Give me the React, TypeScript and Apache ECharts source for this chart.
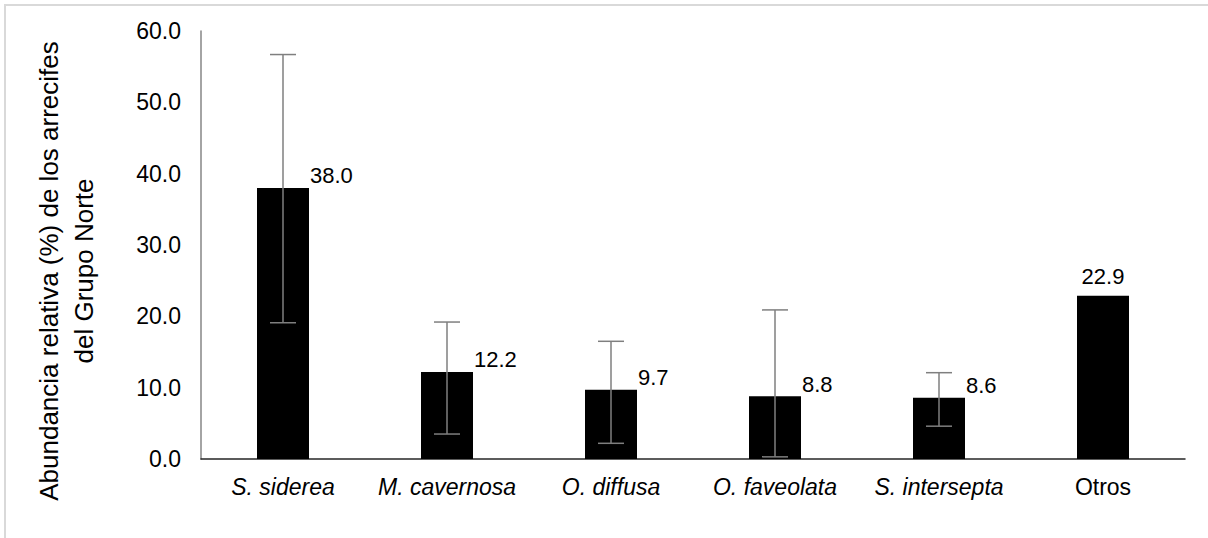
import React, { useEffect, useRef } from "react";
import * as echarts from "echarts";

const categories = ["S. siderea", "M. cavernosa", "O. diffusa", "O. faveolata", "S. intersepta", "Otros"];
const values = [38.0, 12.2, 9.7, 8.8, 8.6, 22.9];
const errLow: (number | null)[] = [19.1, 3.5, 2.2, 0.3, 4.6, null];
const errHigh: (number | null)[] = [56.7, 19.2, 16.5, 20.9, 12.1, null];
const yTicks = [0, 10, 20, 30, 40, 50, 60];
const yTitle = "Abundancia relativa (%) de los arrecifes\ndel Grupo Norte";

const FONT = "Liberation Sans, Arial, sans-serif";

export default function App() {
  const ref = useRef<HTMLDivElement>(null);
  useEffect(() => {
    document.body.style.margin = "0";
    const chart = echarts.init(ref.current!, undefined, { renderer: "svg" });
    const errData = categories
      .map((_, i) => (errLow[i] == null ? null : [i, errLow[i], errHigh[i]]))
      .filter((d) => d != null);
    chart.setOption({
      animation: false,
      backgroundColor: "#ffffff",
      grid: { left: 201, right: 23, top: 31, bottom: 79, containLabel: false },
      xAxis: {
        type: "category",
        data: categories,
        axisTick: { show: false },
        axisLine: { lineStyle: { color: "#262626", width: 1.5 } },
        axisLabel: {
          interval: 0,
          margin: 16,
          fontFamily: FONT,
          fontSize: 23,
          color: "#000",
          formatter: (v: string) => (v === "Otros" ? v : "{i|" + v + "}"),
          rich: { i: { fontStyle: "italic", fontFamily: FONT, fontSize: 23, color: "#000" } },
        },
      },
      yAxis: {
        type: "value",
        min: yTicks[0],
        max: yTicks[yTicks.length - 1],
        interval: 10,
        splitLine: { show: false },
        axisTick: { show: false },
        axisLine: { show: true, lineStyle: { color: "#868686", width: 1.5 } },
        axisLabel: {
          margin: 20,
          fontFamily: FONT,
          fontSize: 23,
          color: "#000",
          formatter: (v: number) => v.toFixed(1),
        },
      },
      graphic: [
        {
          type: "rect",
          shape: { x: 5, y: 5, width: 1400, height: 800 },
          style: { fill: "none", stroke: "#d9d9d9", lineWidth: 2 },
          silent: true,
        },
        {
          type: "text",
          x: 66,
          y: 271,
          rotation: Math.PI / 2,
          style: {
            text: yTitle,
            font: "26px " + FONT,
            fill: "#000",
            align: "center",
            verticalAlign: "middle",
            lineHeight: 35,
          },
        },
      ],
      series: [
        {
          type: "bar",
          barWidth: 52,
          itemStyle: { color: "#000" },
          data: values.map((v, i) => ({
            value: v,
            label:
              errLow[i] == null
                ? {
                    show: true,
                    position: "top",
                    distance: 8,
                    fontFamily: FONT,
                    fontSize: 22,
                    color: "#000",
                    formatter: (p: any) => Number(p.value).toFixed(1),
                  }
                : {
                    show: true,
                    position: "insideTopRight",
                    align: "left",
                    verticalAlign: "middle",
                    offset: [6, -17],
                    fontFamily: FONT,
                    fontSize: 22,
                    color: "#000",
                    formatter: (p: any) => Number(p.value).toFixed(1),
                  },
          })),
        },
        {
          type: "custom",
          data: errData,
          z: 10,
          renderItem: (params: any, api: any) => {
            const x = api.value(0);
            const lo = api.coord([x, api.value(1)]);
            const hi = api.coord([x, api.value(2)]);
            const cap = 13;
            const style = { stroke: "#7f7f7f", lineWidth: 1.5 };
            return {
              type: "group",
              children: [
                { type: "line", shape: { x1: lo[0], y1: lo[1], x2: hi[0], y2: hi[1] }, style },
                { type: "line", shape: { x1: hi[0] - cap, y1: hi[1], x2: hi[0] + cap, y2: hi[1] }, style },
                { type: "line", shape: { x1: lo[0] - cap, y1: lo[1], x2: lo[0] + cap, y2: lo[1] }, style },
              ],
            };
          },
        },
      ],
    });
    return () => chart.dispose();
  }, []);
  return <div ref={ref} style={{ width: 1208, height: 538 }} />;
}
